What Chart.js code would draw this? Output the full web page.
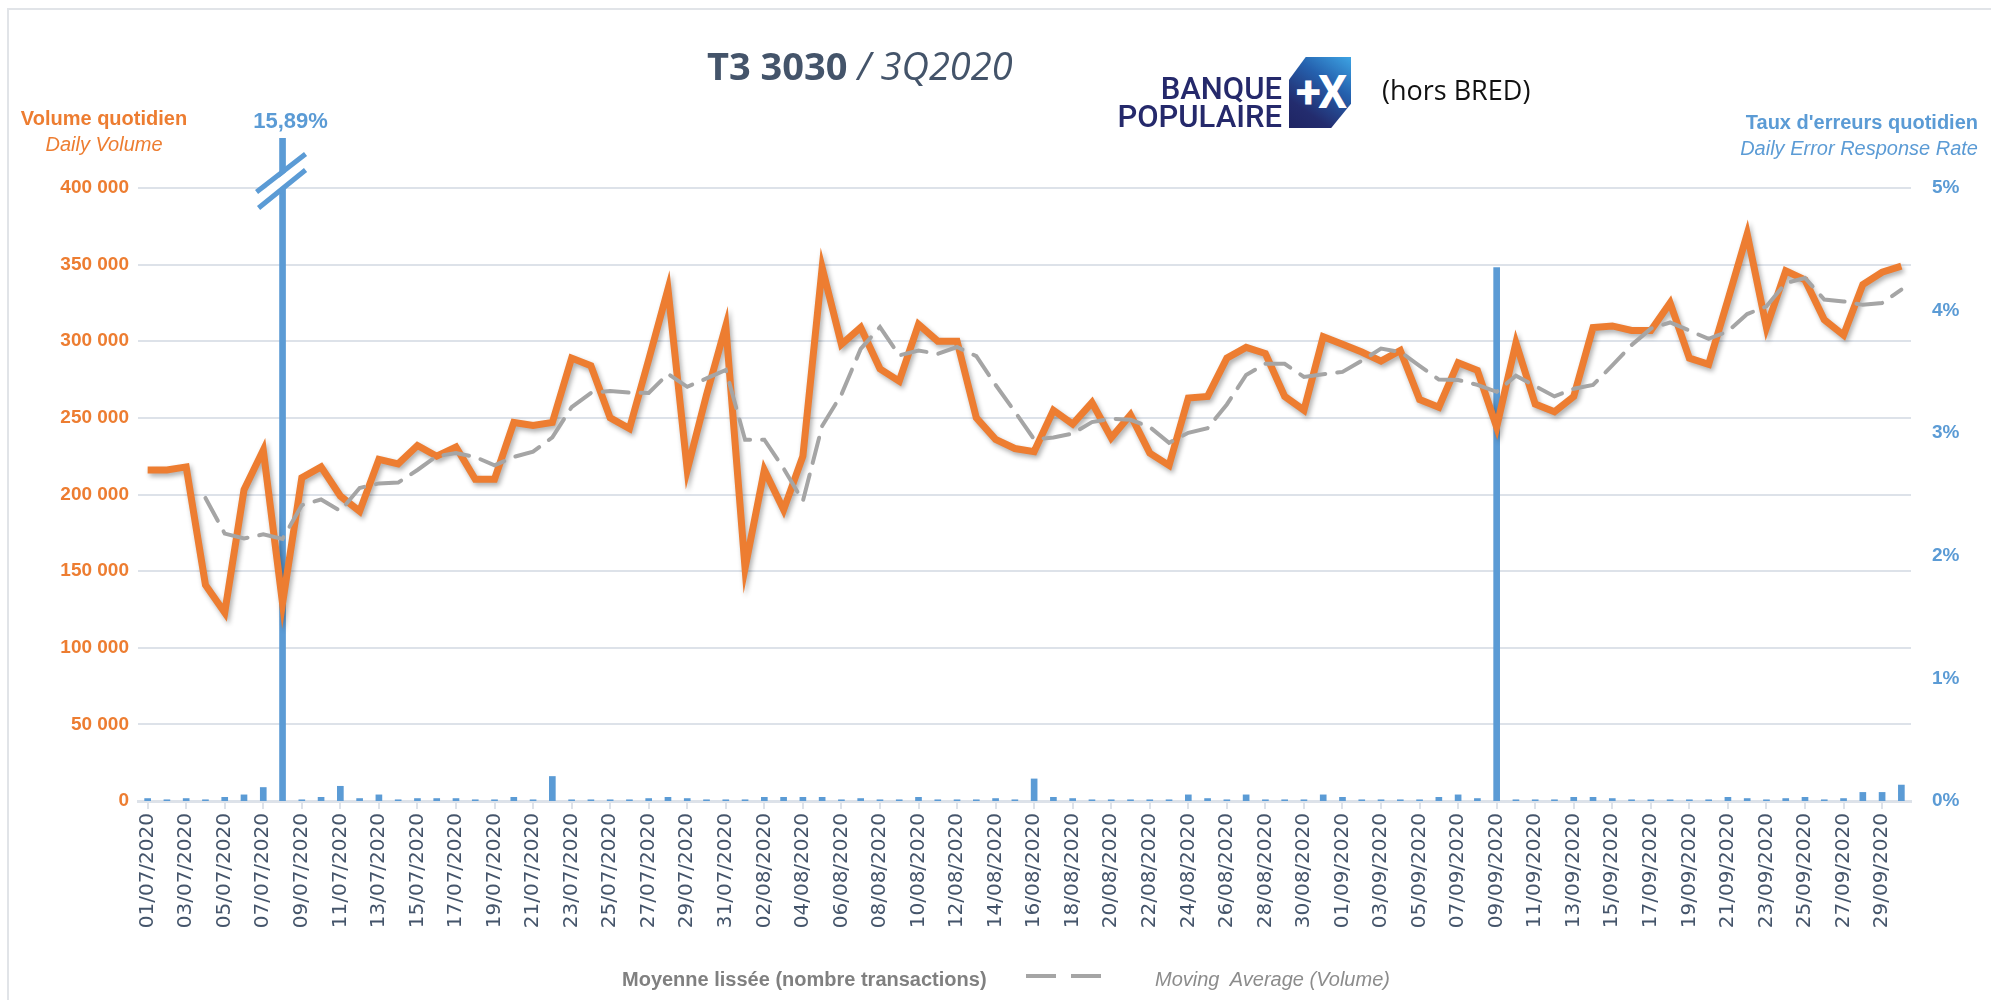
<!DOCTYPE html>
<html>
<head>
<meta charset="utf-8">
<script src="https://cdn.jsdelivr.net/npm/chart.js@4.4.1/dist/chart.umd.min.js"></script>
<style>
  html, body { margin: 0; padding: 0; background: #fff; }
  #page { position: relative; width: 1991px; height: 1000px; overflow: hidden; font-family: "Liberation Sans", Arial, sans-serif; }
  #frame { position: absolute; left: 7px; top: 8px; width: 2000px; height: 1100px; border: 2px solid #E1E4E8; }
  #chartBox { position: absolute; left: 0; top: 0; width: 1991px; height: 1000px; }
  .txt { position: absolute; white-space: nowrap; }
  #title { left: 707px; top: 46px; font-family: "Open Sans", sans-serif; font-size: 38px; line-height: 38px; color: #44546A; }
  #title b { font-weight: 700; }
  #title i { font-weight: 400; }
  #bpText { right: 709px; top: 75px; font-family: Roboto, sans-serif; font-weight: 500; font-size: 31px; line-height: 28px; color: #25296B; text-align: right; }
  #bpBox { position: absolute; left: 1289px; top: 57px; width: 62px; height: 71px;
           background: linear-gradient(215deg, #3DA4E4 0%, #2561AE 35%, #232C6E 75%, #1F2563 100%);
           clip-path: polygon(0 32%, 27% 0, 100% 0, 100% 66%, 68% 100%, 0 100%);
           color: #fff; font-family: Roboto, sans-serif; font-weight: 700; font-size: 46px; line-height: 71px; text-align: center; letter-spacing: -3px; }
  #hors { left: 1382px; top: 76px; font-family: "Open Sans", sans-serif; font-size: 27px; line-height: 27px; color: #111; }
  #leftTitle { left: 4px; top: 105px; width: 200px; text-align: center; font-size: 20px; line-height: 26px; color: #ED7D31; }
  #rightTitle { right: 13px; top: 109px; text-align: right; font-size: 20px; line-height: 26px; color: #5B9BD5; }
  #legendA { left: 622px; top: 967px; font-size: 20px; line-height: 24px; font-weight: 700; color: #808080; }
  #legendDash { position: absolute; left: 1026px; top: 974px; width: 80px; height: 4px;
                background: repeating-linear-gradient(90deg, #A5A5A5 0 30px, transparent 30px 45px); }
  #legendB { left: 1155px; top: 967px; font-size: 20px; line-height: 24px; font-style: italic; color: #8C8C8C; }
</style>
</head>
<body>
<div id="page">
  <div id="frame"></div>
  <div id="chartBox"><canvas id="volumeChart"></canvas></div>
  <div class="txt" id="title"><b>T3 3030</b> <i>/ 3Q2020</i></div>
  <div class="txt" id="bpText">BANQUE<br>POPULAIRE</div>
  <div id="bpBox">+X</div>
  <div class="txt" id="hors">(hors BRED)</div>
  <div class="txt" id="leftTitle"><b>Volume quotidien</b><br><i>Daily Volume</i></div>
  <div class="txt" id="rightTitle"><b>Taux d'erreurs quotidien</b><br><i>Daily Error Response Rate</i></div>
  <div class="txt" id="legendA">Moyenne lissée (nombre transactions)</div>
  <div id="legendDash"></div>
  <div class="txt" id="legendB">Moving&nbsp; Average (Volume)</div>
</div>
<script>
// Data
const julyDays = ["01/07/2020","02/07/2020","03/07/2020","04/07/2020","05/07/2020","06/07/2020","07/07/2020","08/07/2020","09/07/2020","10/07/2020",
  "11/07/2020","12/07/2020","13/07/2020","14/07/2020","15/07/2020","16/07/2020","17/07/2020","18/07/2020","19/07/2020","20/07/2020",
  "21/07/2020","22/07/2020","23/07/2020","24/07/2020","25/07/2020","26/07/2020","27/07/2020","28/07/2020","29/07/2020","30/07/2020","31/07/2020"];
const augustDays = ["01/08/2020","02/08/2020","03/08/2020","04/08/2020","05/08/2020","06/08/2020","07/08/2020","08/08/2020","09/08/2020","10/08/2020",
  "11/08/2020","12/08/2020","13/08/2020","14/08/2020","15/08/2020","16/08/2020","17/08/2020","18/08/2020","19/08/2020","20/08/2020",
  "21/08/2020","22/08/2020","23/08/2020","24/08/2020","25/08/2020","26/08/2020","27/08/2020","28/08/2020","29/08/2020","30/08/2020","31/08/2020"];
const septemberDays = ["01/09/2020","02/09/2020","03/09/2020","04/09/2020","05/09/2020","06/09/2020","07/09/2020","08/09/2020","09/09/2020","10/09/2020",
  "11/09/2020","12/09/2020","13/09/2020","14/09/2020","15/09/2020","16/09/2020","17/09/2020","18/09/2020","19/09/2020","20/09/2020",
  "21/09/2020","22/09/2020","23/09/2020","24/09/2020","25/09/2020","26/09/2020","27/09/2020","28/09/2020","29/09/2020","30/09/2020"];
const days = julyDays.concat(augustDays, septemberDays);

// daily volume (transactions)
const dailyVolume = [
  216000,216000,218000,141000,123000,203000,229000,129000,211000,218000,
  199000,189000,223000,220000,232000,225000,231000,210000,210000,247000,
  245000,247000,289000,284000,250000,243000,288000,334000,216000,265000,
  310000,152000,216000,190000,225000,348000,298000,309000,282000,274000,
  311000,300000,300000,250000,236000,230000,228000,255000,246000,260000,
  237000,252000,227000,219000,263000,264000,289000,296000,292000,264000,
  255000,303000,298000,293000,287000,294000,262000,257000,286000,281000,
  244000,299000,259000,254000,264000,309000,310000,307000,307000,325000,
  289000,285000,327000,370000,309000,346000,340000,314000,304000,337000,
  345000,349000];

// moving average (period 4), as shown by the dashed line
const movingAverage = [
  null,null,null,197750,174500,171250,174000,171000,193000,196750,
  189250,204250,207250,207750,216000,225000,227000,224500,219000,224500,
  228000,237250,257000,266250,267500,266500,266250,278750,270250,275750,
  281250,235750,235750,217000,195750,244750,265250,295000,309250,290750,
  294000,291750,296250,290250,271500,254000,236000,237250,239750,247250,
  249500,248750,244000,233750,240250,243250,258750,278000,285250,285250,
  276750,278500,280000,287250,295250,293000,284000,275000,274750,271500,
  267000,277500,270750,264000,269000,271500,284250,297500,308250,312250,
  307000,301500,306500,317750,322750,338000,341250,327250,326000,323750,
  325000,333750];

// daily error response rate (%)
const errorRates = [
  0.02,0.01,0.02,0.01,0.03,0.05,0.11,15.89,0.01,0.03,
  0.12,0.02,0.05,0.01,0.02,0.02,0.02,0.01,0.01,0.03,
  0.01,0.20,0.01,0.01,0.01,0.01,0.02,0.03,0.02,0.01,
  0.01,0.01,0.03,0.03,0.03,0.03,0.01,0.02,0.01,0.01,
  0.03,0.01,0.01,0.01,0.02,0.01,0.18,0.03,0.02,0.01,
  0.01,0.01,0.01,0.01,0.05,0.02,0.01,0.05,0.01,0.01,
  0.01,0.05,0.03,0.01,0.01,0.01,0.01,0.03,0.05,0.02,
  4.35,0.01,0.01,0.01,0.03,0.03,0.02,0.01,0.01,0.01,
  0.01,0.01,0.03,0.02,0.01,0.02,0.03,0.01,0.02,0.07,
  0.07,0.13];

const volumeTicks = { min: 0, max: 400000, step: 50000 };
const rateTicks = { min: 0, max: 5, step: 1 };

// Colors
const orange = "#ED7D31";
const blue = "#5B9BD5";
const gray = "#A5A5A5";
const gridColor = "#DDE2E9";
const slate = "#44546A";

function spaced(v) {
  return String(v).replace(/\B(?=(\d{3})+(?!\d))/g, " ");
}

// shadow under the volume line
const lineShadow = {
  id: "lineShadow",
  beforeDatasetDraw(chart, args) {
    if (args.index !== 1) return;
    const ctx = chart.ctx;
    ctx.save();
    ctx.shadowColor = "rgba(0,0,0,0.32)";
    ctx.shadowBlur = 5;
    ctx.shadowOffsetX = 2;
    ctx.shadowOffsetY = 3;
  },
  afterDatasetDraw(chart, args) {
    if (args.index !== 1) return;
    chart.ctx.restore();
  }
};

// break marks + value label for bars beyond the right axis
const axisBreak = {
  id: "axisBreak",
  afterDatasetsDraw(chart) {
    const ctx = chart.ctx;
    const top = chart.chartArea.top;
    const y1 = chart.scales.y1;
    const meta = chart.getDatasetMeta(2);
    meta.data.forEach((bar, i) => {
      const v = errorRates[i];
      if (v <= y1.max) return;
      const x = bar.x;
      ctx.save();
      ctx.lineCap = "butt";
      ctx.strokeStyle = "#fff";
      ctx.lineWidth = 9;
      ctx.beginPath();
      ctx.moveTo(x - 27, top + 14);
      ctx.lineTo(x + 25, top - 27);
      ctx.stroke();
      ctx.strokeStyle = blue;
      ctx.lineWidth = 5;
      ctx.beginPath();
      ctx.moveTo(x - 26, top + 4);
      ctx.lineTo(x + 23, top - 34);
      ctx.moveTo(x - 24, top + 20);
      ctx.lineTo(x + 23, top - 18);
      ctx.stroke();
      ctx.fillStyle = blue;
      ctx.font = "bold 22px 'Liberation Sans', Arial, sans-serif";
      ctx.textAlign = "center";
      ctx.textBaseline = "alphabetic";
      ctx.fillText(v.toFixed(2).replace(".", ",") + "%", x + 8, top - 60);
      ctx.restore();
    });
  }
};

Chart.defaults.font.family = "'Liberation Sans', Arial, sans-serif";
Chart.defaults.animation = false;

const chart = new Chart(document.getElementById("volumeChart"), {
  data: {
    labels: days,
    datasets: [
      {
        type: "line",
        label: "Moving Average (Volume)",
        data: movingAverage,
        yAxisID: "y",
        borderColor: gray,
        borderWidth: 4,
        borderDash: [26, 12],
        borderCapStyle: "round",
        pointRadius: 0,
        fill: false,
        order: 0
      },
      {
        type: "line",
        label: "Daily Volume",
        data: dailyVolume,
        yAxisID: "y",
        borderColor: orange,
        borderWidth: 7,
        borderJoinStyle: "miter",
        pointRadius: 0,
        fill: false,
        order: 1
      },
      {
        type: "bar",
        label: "Daily Error Response Rate",
        data: errorRates,
        yAxisID: "y1",
        backgroundColor: blue,
        borderWidth: 0,
        barThickness: 6,
        clip: { left: 0, top: 50, right: 0, bottom: 0 },
        order: 2
      }
    ]
  },
  options: {
    responsive: true,
    maintainAspectRatio: false,
    layout: { padding: { top: 188, left: 0, right: 0, bottom: 0 } },
    plugins: {
      legend: { display: false },
      tooltip: { enabled: false }
    },
    scales: {
      x: {
        type: "category",
        offset: true,
        afterBuildTicks: (s) => { s.ticks = s.ticks.filter((t, i) => i % 2 === 0); },
        afterFit: (s) => { s.height = 199; },
        grid: { drawOnChartArea: false, offset: false, drawTicks: true, tickLength: 8, color: gridColor, lineWidth: 2 },
        border: { color: gridColor, width: 3 },
        ticks: {
          autoSkip: false, maxRotation: 90, minRotation: 90, padding: 4,
          color: slate, font: { family: "'DejaVu Sans', sans-serif", size: 20 }
        }
      },
      y: {
        position: "left",
        min: volumeTicks.min, max: volumeTicks.max,
        afterFit: (s) => { s.width = 138; },
        grid: { color: gridColor, lineWidth: 2, drawTicks: false },
        border: { display: false },
        ticks: {
          stepSize: volumeTicks.step, padding: 9, color: orange,
          font: { size: 19, weight: "bold" },
          callback: (v) => spaced(v)
        }
      },
      y1: {
        position: "right",
        min: rateTicks.min, max: rateTicks.max,
        afterFit: (s) => { s.width = 80; },
        grid: { display: false, drawTicks: false },
        border: { display: false },
        ticks: {
          stepSize: rateTicks.step, padding: 21, color: blue,
          font: { size: 19, weight: "bold" },
          callback: (v) => v + "%"
        }
      }
    }
  },
  plugins: [lineShadow, axisBreak]
});
</script>
</body>
</html>
